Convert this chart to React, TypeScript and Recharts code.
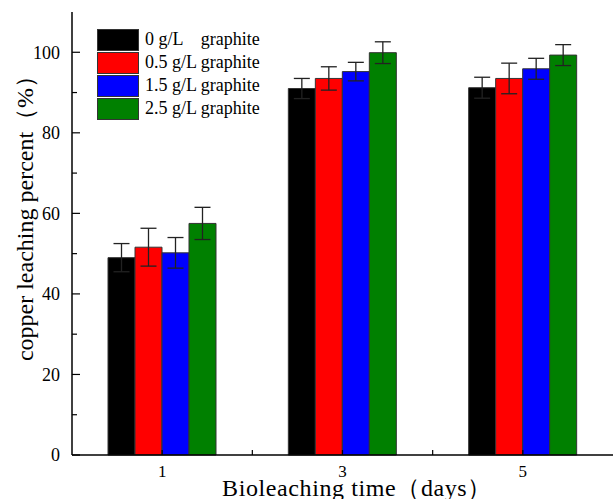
import React from 'react';
import { BarChart, Bar, XAxis, YAxis, ErrorBar, Legend } from 'recharts';

const days = ['1', '3', '5'];

const seriesNames = ['0 g/L    graphite', '0.5 g/L graphite', '1.5 g/L graphite', '2.5 g/L graphite'];
const seriesColors = ['#000000', '#ff0000', '#0000ff', '#008000'];

const g0 = [49.0, 91.0, 91.2];
const g05 = [51.6, 93.5, 93.5];
const g15 = [50.2, 95.2, 95.9];
const g25 = [57.5, 99.9, 99.3];

const err0 = [3.5, 2.5, 2.6];
const err05 = [4.7, 2.9, 3.8];
const err15 = [3.8, 2.3, 2.6];
const err25 = [4.0, 2.7, 2.6];

const yTicks = [0, 10, 20, 30, 40, 50, 60, 70, 80, 90, 100];

// the plot frame runs past the right edge of the picture: draw it wider and clip,
// while the x axis padding keeps the three day bands inside the visible part
const W = 613;
const H = 499;
const EXTRA = 12;
const RIGHT_MARGIN = -15;
const PLOT_RIGHT = W + EXTRA - RIGHT_MARGIN;
const X_PAD = PLOT_RIGHT - W;
const Y_AXIS_W = 72;
const X_AXIS_H = 44;
const HALF_BAND = (W - Y_AXIS_W) / days.length / 2;
const FONT = '"Liberation Serif", "Times New Roman", serif';

const data = days.map((d, i) => ({
    day: d,
    s0: g0[i],
    s1: g05[i],
    s2: g15[i],
    s3: g25[i],
    e0: err0[i],
    e1: err05[i],
    e2: err15[i],
    e3: err25[i],
}));

const YTick = (props: any) => {
    const { x, y, payload } = props;
    const ax = x + 12;
    const major = payload.value % 20 === 0;
    return (
        <g>
            <line x1={ax} x2={ax + (major ? 8 : 5)} y1={y} y2={y} stroke="#000" strokeWidth={1.2} />
            {major && (
                <text x={x} y={y} dy="0.35em" textAnchor="end" fontFamily={FONT} fontSize={18} fill="#000">
                    {payload.value}
                </text>
            )}
        </g>
    );
};

const XTick = (props: any) => {
    const { x, y, payload, index } = props;
    const ay = y - 10;
    return (
        <g>
            <line x1={x} x2={x} y1={ay} y2={ay - 5} stroke="#000" strokeWidth={1.2} />
            {index < days.length - 1 && (
                <line x1={x + HALF_BAND} x2={x + HALF_BAND} y1={ay} y2={ay - 5} stroke="#000" strokeWidth={1.2} />
            )}
            <text x={x} y={y} dy="0.71em" textAnchor="middle" fontFamily={FONT} fontSize={17} fill="#000">
                {payload.value}
            </text>
        </g>
    );
};

const YLabel = (props: any) => {
    const vb = props.viewBox;
    const cx = vb.x + 25;
    const cy = vb.y + vb.height / 2 - 21;
    return (
        <text
            x={cx}
            y={cy}
            transform={`rotate(-90 ${cx} ${cy})`}
            textAnchor="middle"
            dominantBaseline="central"
            fontFamily={FONT}
            fontSize={24}
            fill="#000"
        >
            copper leaching percent（%）
        </text>
    );
};

const XLabel = (props: any) => {
    const vb = props.viewBox;
    return (
        <text
            x={vb.x + 285}
            y={vb.y + 41}
            textAnchor="middle"
            fontFamily={FONT}
            fontSize={24}
            letterSpacing={0.6}
            fill="#000"
        >
            Bioleaching time（days）
        </text>
    );
};

const LegendBox = (props: any) => {
    const { payload } = props;
    return (
        <div style={{ fontFamily: FONT, fontSize: 18, color: '#000' }}>
            {(payload || []).map((item: any) => (
                <div key={item.value} style={{ display: 'flex', alignItems: 'center', height: 23 }}>
                    <div
                        style={{
                            width: 40,
                            height: 20,
                            background: item.color,
                            border: '1px solid #333',
                            marginRight: 6,
                        }}
                    />
                    <span style={{ whiteSpace: 'pre' }}>{item.value}</span>
                </div>
            ))}
        </div>
    );
};

const App = () => {
    return (
        <div style={{ position: 'fixed', left: 0, top: 0, width: W, height: H, overflow: 'hidden', background: '#fff' }}>
            <div style={{ width: W + EXTRA, height: H }}>
                <BarChart
                    width={W + EXTRA}
                    height={H}
                    data={data}
                    margin={{ top: 12, right: RIGHT_MARGIN, bottom: 0, left: 0 }}
                    barSize={27}
                    barGap={0}
                >
                    <XAxis
                        dataKey="day"
                        height={X_AXIS_H}
                        padding={{ left: 0, right: X_PAD }}
                        tickSize={0}
                        tickMargin={10}
                        tickLine={false}
                        tick={<XTick />}
                        axisLine={{ stroke: '#000', strokeWidth: 1.5 }}
                        label={<XLabel />}
                    />
                    <XAxis
                        xAxisId="top"
                        dataKey="day"
                        orientation="top"
                        height={0}
                        padding={{ left: 0, right: X_PAD }}
                        tick={false}
                        tickLine={false}
                        axisLine={{ stroke: '#000', strokeWidth: 1.5 }}
                    />
                    <YAxis
                        type="number"
                        domain={[0, 110]}
                        ticks={yTicks}
                        width={Y_AXIS_W}
                        tickSize={8}
                        tickMargin={4}
                        tickLine={false}
                        tick={<YTick />}
                        axisLine={{ stroke: '#000', strokeWidth: 1.5 }}
                        interval={0}
                        label={<YLabel />}
                    />
                    <Legend
                        layout="vertical"
                        align="center"
                        verticalAlign="middle"
                        content={<LegendBox />}
                        wrapperStyle={{ left: 97, top: 28, width: 'auto' }}
                    />
                    {['s0', 's1', 's2', 's3'].map((key, i) => (
                        <Bar
                            key={key}
                            dataKey={key}
                            name={seriesNames[i]}
                            fill={seriesColors[i]}
                            stroke="#333"
                            strokeWidth={1}
                            isAnimationActive={false}
                        >
                            <ErrorBar dataKey={'e' + i} width={8} stroke="#222" strokeWidth={1.3} direction="y" />
                        </Bar>
                    ))}
                </BarChart>
            </div>
        </div>
    );
};

export default App;
